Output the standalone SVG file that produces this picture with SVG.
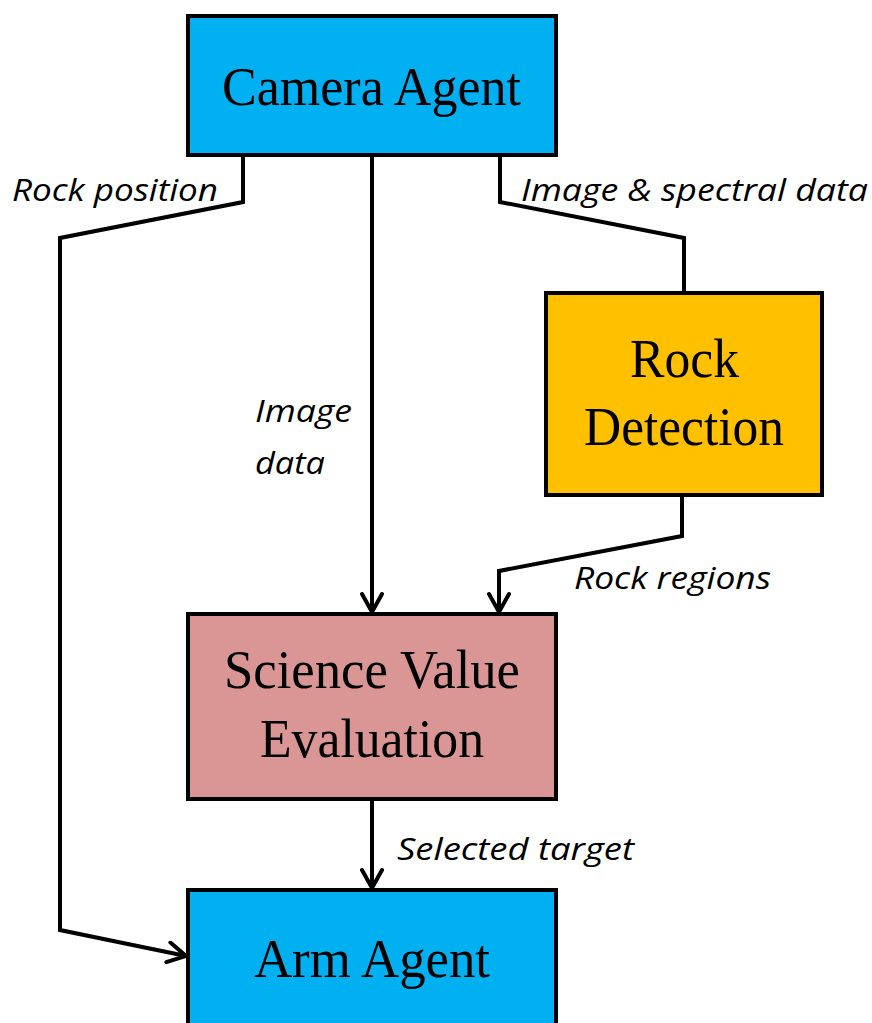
<svg xmlns="http://www.w3.org/2000/svg" width="872" height="1023" viewBox="0 0 872 1023">
  <style>
    .box { stroke: #000; stroke-width: 4; }
    .title { font-family: "Liberation Serif", "Times New Roman", serif; font-size: 55px; fill: #000; }
    .lbl { font-family: "Open Sans", "Liberation Sans", sans-serif; font-style: italic; font-size: 31px; fill: #000; }
    .wire { fill: none; stroke: #000; stroke-width: 4; stroke-linejoin: miter; }
  </style>
  <defs>
    <marker id="arrow" viewBox="0 0 24 24" refX="21" refY="12" markerWidth="24" markerHeight="24" markerUnits="userSpaceOnUse" orient="auto">
      <path d="M3,2 L21,12 L3,22" fill="none" stroke="#000" stroke-width="4" stroke-linecap="round" stroke-linejoin="miter"/>
    </marker>
  </defs>
  <rect width="872" height="1023" fill="#fff"/>

  <g id="connectors">
    <path class="wire" d="M243,155 V202 L60,238 V930 L186,956" marker-end="url(#arrow)"/>
    <path class="wire" d="M372,155 V612" marker-end="url(#arrow)"/>
    <path class="wire" d="M500,155 V202 L684,238 V293"/>
    <path class="wire" d="M682,495 V536 L499,571 V612" marker-end="url(#arrow)"/>
    <path class="wire" d="M372,799 V888" marker-end="url(#arrow)"/>
    <text class="lbl" x="12" y="201" textLength="206" lengthAdjust="spacingAndGlyphs">Rock position</text>
    <text class="lbl" x="521" y="201" textLength="347" lengthAdjust="spacingAndGlyphs">Image &amp; spectral data</text>
    <text class="lbl" x="255" y="422" textLength="97" lengthAdjust="spacingAndGlyphs">Image</text>
    <text class="lbl" x="255" y="474" textLength="70" lengthAdjust="spacingAndGlyphs">data</text>
    <text class="lbl" x="574" y="589" textLength="197" lengthAdjust="spacingAndGlyphs">Rock regions</text>
    <text class="lbl" x="397" y="860" textLength="237" lengthAdjust="spacingAndGlyphs">Selected target</text>
  </g>

  <g id="camera-agent">
    <rect class="box" x="188" y="16" width="368" height="139" fill="#00B0F0"/>
    <text class="title" x="222" y="105" textLength="299" lengthAdjust="spacingAndGlyphs">Camera Agent</text>
  </g>

  <g id="rock-detection">
    <rect class="box" x="546" y="293" width="276" height="202" fill="#FFC000"/>
    <text class="title" x="630" y="377" textLength="109" lengthAdjust="spacingAndGlyphs">Rock</text>
    <text class="title" x="584" y="445" textLength="200" lengthAdjust="spacingAndGlyphs">Detection</text>
  </g>

  <g id="science-value-evaluation">
    <rect class="box" x="188" y="614" width="368" height="185" fill="#D99694"/>
    <text class="title" x="224" y="688" textLength="296" lengthAdjust="spacingAndGlyphs">Science Value</text>
    <text class="title" x="260" y="757" textLength="224" lengthAdjust="spacingAndGlyphs">Evaluation</text>
  </g>

  <g id="arm-agent">
    <rect class="box" x="188" y="890" width="368" height="150" fill="#00B0F0"/>
    <text class="title" x="254" y="977" textLength="236" lengthAdjust="spacingAndGlyphs">Arm Agent</text>
  </g>
</svg>
